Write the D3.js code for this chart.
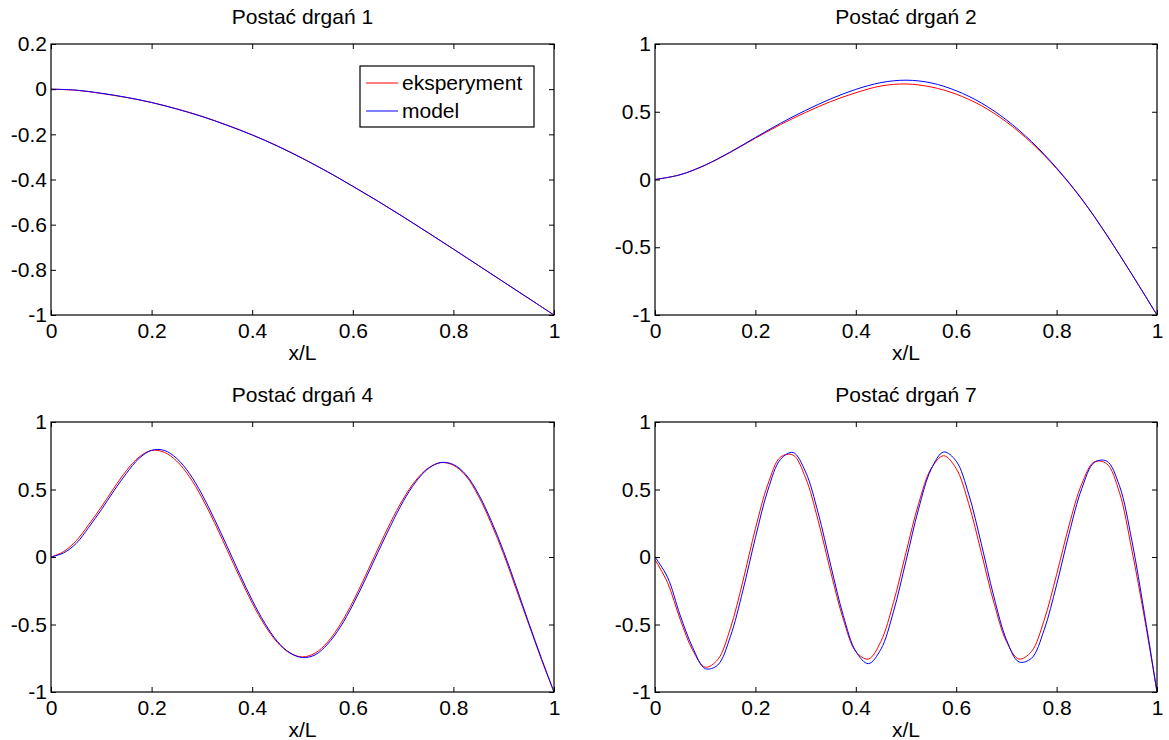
<!DOCTYPE html>
<html>
<head>
<meta charset="utf-8">
<script src="https://cdn.jsdelivr.net/npm/d3@7"></script>
<style>
  body { margin: 0; background: #ffffff; }
  svg { display: block; }
</style>
</head>
<body>
<script>

//Shared Axis Values.
var xCoarse = [0, 0.05, 0.1, 0.15, 0.2, 0.25, 0.3, 0.35, 0.4, 0.45, 0.5, 0.55, 0.6, 0.65, 0.7, 0.75, 0.8, 0.85, 0.9, 0.95, 1];
var xFine = [0, 0.025, 0.05, 0.075, 0.1, 0.125, 0.15, 0.175, 0.2, 0.225, 0.25, 0.275, 0.3, 0.325, 0.35, 0.375, 0.4, 0.425, 0.45, 0.475, 0.5,
             0.525, 0.55, 0.575, 0.6, 0.625, 0.65, 0.675, 0.7, 0.725, 0.75, 0.775, 0.8, 0.825, 0.85, 0.875, 0.9, 0.925, 0.95, 0.975, 1];
var xTicks = [0, 0.2, 0.4, 0.6, 0.8, 1];
var xTickLabels = ["0", "0.2", "0.4", "0.6", "0.8", "1"];
var yTicksMode1 = [-1, -0.8, -0.6, -0.4, -0.2, 0, 0.2];
var yTickLabelsMode1 = ["-1", "-0.8", "-0.6", "-0.4", "-0.2", "0", "0.2"];
var yTicksHalf = [-1, -0.5, 0, 0.5, 1];
var yTickLabelsHalf = ["-1", "-0.5", "0", "0.5", "1"];

//Titles And Labels.
var titles = ["Postać drgań 1", "Postać drgań 2", "Postać drgań 4", "Postać drgań 7"];
var xLabel = "x/L";
var seriesNames = ["eksperyment", "model"];

//Mode 1 (Coarse Grid).
var mode1Exp = [0, -0.005, -0.019, -0.037, -0.059, -0.087, -0.12, -0.159, -0.202, -0.251, -0.306, -0.366, -0.43, -0.496, -0.565, -0.636, -0.708, -0.781, -0.854, -0.927, -1];
var mode1Model = [0, -0.004, -0.018, -0.036, -0.059, -0.088, -0.121, -0.16, -0.203, -0.252, -0.307, -0.366, -0.43, -0.496, -0.565, -0.636, -0.708, -0.781, -0.854, -0.927, -1];

//Mode 2 (Coarse Grid).
var mode2Exp = [0, 0.035, 0.105, 0.2, 0.305, 0.405, 0.495, 0.575, 0.64, 0.69, 0.705, 0.683, 0.63, 0.545, 0.425, 0.27, 0.08, -0.145, -0.41, -0.7, -1];
var mode2Model = [0, 0.035, 0.107, 0.203, 0.31, 0.415, 0.51, 0.595, 0.665, 0.715, 0.733, 0.713, 0.655, 0.565, 0.44, 0.28, 0.085, -0.143, -0.41, -0.7, -1];

//Mode 4 (Fine Grid).
var mode4Exp = [0, 0.04, 0.12, 0.24, 0.37, 0.51, 0.64, 0.74, 0.79, 0.776, 0.71, 0.596, 0.44, 0.255, 0.054, -0.149, -0.341, -0.506, -0.633, -0.712, -0.74,
                -0.712, -0.63, -0.5, -0.332, -0.14, 0.061, 0.256, 0.429, 0.567, 0.659, 0.699, 0.68, 0.6, 0.45, 0.25, 0.02, -0.24, -0.5, -0.76, -1];
var mode4Model = [0, 0.03, 0.1, 0.22, 0.35, 0.49, 0.62, 0.73, 0.79, 0.79, 0.73, 0.62, 0.465, 0.28, 0.08, -0.125, -0.32, -0.49, -0.625, -0.71, -0.745,
                  -0.725, -0.645, -0.52, -0.355, -0.165, 0.035, 0.23, 0.41, 0.555, 0.655, 0.7, 0.685, 0.61, 0.465, 0.27, 0.04, -0.22, -0.49, -0.75, -1];

//Mode 7 (Fine Grid).
var mode7Exp = [-0.02, -0.19, -0.46, -0.69, -0.816, -0.76, -0.53, -0.18, 0.21, 0.54, 0.74, 0.755, 0.586, 0.27, -0.11, -0.46, -0.7, -0.756, -0.625, -0.337, 0.033,
                0.394, 0.655, 0.75, 0.655, 0.394, 0.033, -0.337, -0.625, -0.756, -0.7, -0.47, -0.13, 0.237, 0.54, 0.705, 0.69, 0.48, 0.05, -0.45, -1];
var mode7Model = [0, -0.15, -0.43, -0.67, -0.827, -0.8, -0.591, -0.25, 0.143, 0.497, 0.723, 0.774, 0.63, 0.327, -0.061, -0.433, -0.699, -0.79, -0.683, -0.406, -0.029,
                  0.355, 0.649, 0.778, 0.71, 0.464, 0.098, -0.293, -0.612, -0.777, -0.75, -0.542, -0.206, 0.175, 0.505, 0.7, 0.71, 0.53, 0.12, -0.42, -1];

//Main Drawing Function.
function mainFunction() {

  //Figure Size.
  var width = 1169;
  var height = 740;
  var fontFamily = "'Liberation Sans', Arial, Helvetica, sans-serif";
  var fontSize = 21;

  var svg = d3.select("body").append("svg").attr("width", width).attr("height", height);

  //Axes Boxes (left, right, top, bottom) For The 2x2 Grid.
  var boxes = [
    { left: 51, right: 554, top: 44, bottom: 315 },
    { left: 655, right: 1157, top: 44, bottom: 315 },
    { left: 51, right: 554, top: 422, bottom: 692 },
    { left: 655, right: 1157, top: 422, bottom: 692 }
  ];

  //Panel Setup Built From The Named Arrays.
  var panels = [
    { x: xCoarse, exp: mode1Exp, model: mode1Model, yDomain: [-1, 0.2], yTicks: yTicksMode1, yLabels: yTickLabelsMode1, legend: true },
    { x: xCoarse, exp: mode2Exp, model: mode2Model, yDomain: [-1, 1], yTicks: yTicksHalf, yLabels: yTickLabelsHalf, legend: false },
    { x: xFine, exp: mode4Exp, model: mode4Model, yDomain: [-1, 1], yTicks: yTicksHalf, yLabels: yTickLabelsHalf, legend: false },
    { x: xFine, exp: mode7Exp, model: mode7Model, yDomain: [-1, 1], yTicks: yTicksHalf, yLabels: yTickLabelsHalf, legend: false }
  ];

  panels.forEach(function(p, i) {
    drawPanel(svg, boxes[i], titles[i], p, fontFamily, fontSize);
  });

};//End of Main Function.

//Draws One Subplot.
function drawPanel(svg, box, title, p, fontFamily, fontSize) {

  var xScale = d3.scaleLinear().domain([0, 1]).range([box.left, box.right]);
  var yScale = d3.scaleLinear().domain(p.yDomain).range([box.bottom, box.top]);

  var g = svg.append("g");

  //Data Lines (red experiment first, blue model on top).
  var line = d3.line()
    .x(function(d) { return xScale(d[0]); })
    .y(function(d) { return yScale(d[1]); })
    .curve(d3.curveCatmullRom.alpha(0.5));

  var expPoints = p.x.map(function(x, k) { return [x, p.exp[k]]; });
  var modelPoints = p.x.map(function(x, k) { return [x, p.model[k]]; });

  g.append("path").datum(expPoints)
    .attr("d", line).attr("fill", "none").attr("stroke", "#ff0000").attr("stroke-width", 1);
  g.append("path").datum(modelPoints)
    .attr("d", line).attr("fill", "none").attr("stroke", "#0000ff").attr("stroke-width", 1);

  //Axes With Inward Ticks On All Four Sides.
  var bottomAxis = d3.axisBottom(xScale).tickValues(xTicks)
    .tickFormat(function(d, k) { return xTickLabels[k]; })
    .tickSizeInner(-5).tickSizeOuter(0).tickPadding(8);
  var topAxis = d3.axisTop(xScale).tickValues(xTicks).tickFormat("").tickSizeInner(-5).tickSizeOuter(0);
  var leftAxis = d3.axisLeft(yScale).tickValues(p.yTicks)
    .tickFormat(function(d, k) { return p.yLabels[k]; })
    .tickSizeInner(-5).tickSizeOuter(0).tickPadding(4);
  var rightAxis = d3.axisRight(yScale).tickValues(p.yTicks).tickFormat("").tickSizeInner(-5).tickSizeOuter(0);

  var axes = [
    g.append("g").attr("transform", "translate(0," + box.bottom + ")").call(bottomAxis),
    g.append("g").attr("transform", "translate(0," + box.top + ")").call(topAxis),
    g.append("g").attr("transform", "translate(" + box.left + ",0)").call(leftAxis),
    g.append("g").attr("transform", "translate(" + box.right + ",0)").call(rightAxis)
  ];

  axes.forEach(function(a) {
    a.attr("font-family", fontFamily).attr("font-size", fontSize);
    a.select(".domain").remove();
    a.selectAll(".tick line").attr("stroke", "#000000");
    a.selectAll(".tick text").attr("fill", "#000000");
  });

  //Axes Box.
  g.append("rect")
    .attr("x", box.left).attr("y", box.top)
    .attr("width", box.right - box.left).attr("height", box.bottom - box.top)
    .attr("fill", "none").attr("stroke", "#000000").attr("stroke-width", 1.2);

  //Title.
  g.append("text")
    .attr("x", (box.left + box.right) / 2).attr("y", box.top - 20)
    .attr("text-anchor", "middle")
    .attr("font-family", fontFamily).attr("font-size", fontSize)
    .text(title);

  //X Label.
  g.append("text")
    .attr("x", (box.left + box.right) / 2).attr("y", box.bottom + 45)
    .attr("text-anchor", "middle")
    .attr("font-family", fontFamily).attr("font-size", fontSize)
    .text(xLabel);

  //Legend (first panel only).
  if (p.legend) {
    var lg = g.append("g");
    var lx = 360, ly = 66, lw = 174, lh = 61;
    lg.append("rect")
      .attr("x", lx).attr("y", ly).attr("width", lw).attr("height", lh)
      .attr("fill", "#ffffff").attr("stroke", "#000000").attr("stroke-width", 1.2);
    var colors = ["#ff0000", "#0000ff"];
    seriesNames.forEach(function(name, k) {
      var rowY = ly + 17 + k * 28;
      lg.append("line")
        .attr("x1", lx + 6).attr("x2", lx + 38).attr("y1", rowY).attr("y2", rowY)
        .attr("stroke", colors[k]).attr("stroke-width", 1);
      lg.append("text")
        .attr("x", lx + 42).attr("y", rowY).attr("dy", "0.35em")
        .attr("font-family", fontFamily).attr("font-size", fontSize)
        .text(name);
    });
  }

};//End of Draw Panel.

//Calling the Main Function.
mainFunction();

</script>
</body>
</html>
